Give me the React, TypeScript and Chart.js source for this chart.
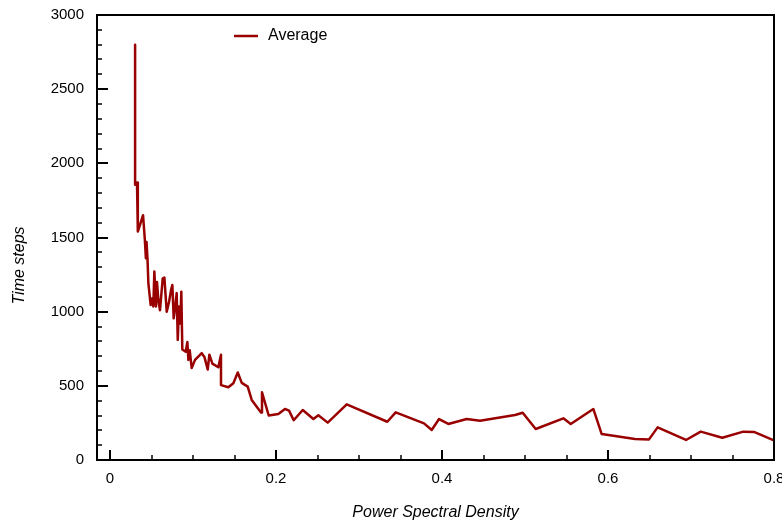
import React, { useEffect, useRef } from "react";
import { Chart, registerables } from "chart.js";

Chart.register(...registerables);

const seriesLabel = "Average";
const xTitle = "Power Spectral Density";
const yTitle = "Time steps";

const psd: number[] = [
  0.0302, 0.0302, 0.0325, 0.0335, 0.0398, 0.042, 0.0432, 0.044, 0.0452, 0.0462,
  0.049, 0.051, 0.0522, 0.0534, 0.0554, 0.0566, 0.0582, 0.0602, 0.0635, 0.0655,
  0.0683, 0.0711, 0.0735, 0.0751, 0.0767, 0.0783, 0.0803, 0.0816, 0.0831, 0.0847,
  0.0859, 0.0871, 0.0912, 0.0932, 0.0944, 0.096, 0.0984, 0.1024, 0.1105, 0.1137,
  0.1177, 0.1197, 0.1233, 0.1305, 0.1337, 0.1337, 0.1426, 0.1486, 0.1539, 0.1587,
  0.1659, 0.1707, 0.1819, 0.1831, 0.1912, 0.2028, 0.2108, 0.2157, 0.2213, 0.2322,
  0.245, 0.251, 0.2623, 0.2852, 0.3341, 0.3442, 0.3783, 0.3876, 0.3964, 0.4076,
  0.4297, 0.4458, 0.488, 0.4972, 0.5129, 0.5462, 0.5551, 0.5823, 0.5924, 0.6325,
  0.6494, 0.6598, 0.694, 0.7117, 0.7377, 0.763, 0.7759, 0.7984,
];

const steps: number[] = [
  2800, 1855, 1870, 1540, 1650, 1480, 1360, 1470, 1350, 1190,
  1045, 1090, 1035, 1270, 1035, 1200, 1080, 1010, 1225, 1230,
  1000, 1065, 1145, 1180, 955, 1020, 1125, 810, 1035, 920,
  1135, 745, 730, 795, 675, 740, 620, 675, 720, 695,
  610, 710, 650, 625, 710, 505, 490, 517, 590, 520,
  495, 405, 321, 456, 300, 310, 344, 333, 268, 337,
  276, 301, 252, 375, 258, 321, 247, 202, 276, 243,
  276, 265, 303, 319, 209, 281, 243, 344, 175, 142,
  139, 220, 135, 191, 150, 191, 189, 135,
];

const xTickLabels = ["0", "0.2", "0.4", "0.6", "0.8"];
const yTickLabels = ["0", "500", "1000", "1500", "2000", "2500", "3000"];

const FONT = "'Liberation Sans', Arial, Helvetica, sans-serif";
const LINE_COLOR = "#990000";

const framePlugin = {
  id: "framePlugin",
  afterDraw(chart: any) {
    const ctx = chart.ctx as CanvasRenderingContext2D;
    const { left, right, top, bottom } = chart.chartArea;
    const xs = chart.scales.x;
    const ys = chart.scales.y;
    ctx.save();
    ctx.strokeStyle = "#000";
    // y ticks (inward)
    for (let v = 0; v <= 3000; v += 100) {
      const py = Math.round(ys.getPixelForValue(v));
      const major = v % 500 === 0;
      ctx.lineWidth = major ? 2 : 1.5;
      ctx.beginPath();
      ctx.moveTo(left, py);
      ctx.lineTo(left + (major ? 11 : 5), py);
      ctx.stroke();
    }
    // x ticks (inward)
    for (let i = 0; i <= 16; i++) {
      const v = i * 0.05;
      const px = Math.round(xs.getPixelForValue(v));
      const major = i % 4 === 0;
      ctx.lineWidth = major ? 2 : 1.5;
      ctx.beginPath();
      ctx.moveTo(px, bottom);
      ctx.lineTo(px, bottom - (major ? 10 : 5));
      ctx.stroke();
    }
    // frame
    ctx.lineWidth = 2;
    ctx.strokeRect(left, top, right - left, bottom - top);
    // legend
    const ds = chart.data.datasets[0];
    const ly = top + 21;
    const lx = left + 137;
    ctx.strokeStyle = ds.borderColor;
    ctx.lineWidth = 2.5;
    ctx.beginPath();
    ctx.moveTo(lx, ly);
    ctx.lineTo(lx + 24, ly);
    ctx.stroke();
    ctx.fillStyle = "#000";
    ctx.font = `16px ${FONT}`;
    ctx.textBaseline = "middle";
    ctx.textAlign = "left";
    ctx.fillText(ds.label, lx + 34, ly);
    // y axis title
    ctx.save();
    ctx.translate(20, (top + bottom) / 2 + 28);
    ctx.rotate(-Math.PI / 2);
    ctx.font = `italic 16px ${FONT}`;
    ctx.textAlign = "center";
    ctx.textBaseline = "middle";
    ctx.fillText(yTitle, 0, 0);
    ctx.restore();
    ctx.restore();
  },
};

export default function App() {
  const ref = useRef<HTMLCanvasElement | null>(null);
  useEffect(() => {
    if (!ref.current) return;
    const chart = new Chart(ref.current, {
      type: "line",
      data: {
        datasets: [
          {
            label: seriesLabel,
            data: psd.map((x, i) => ({ x, y: steps[i] })),
            borderColor: LINE_COLOR,
            backgroundColor: LINE_COLOR,
            borderWidth: 2.5,
            borderJoinStyle: "round",
            borderCapStyle: "round",
            pointRadius: 0,
            tension: 0,
            fill: false,
          },
        ],
      },
      options: {
        animation: false,
        responsive: true,
        maintainAspectRatio: false,
        layout: { padding: { left: 40, right: 8, top: 15, bottom: 0 } },
        plugins: {
          legend: { display: false },
          tooltip: { enabled: false },
        },
        scales: {
          x: {
            type: "linear",
            min: -0.0157,
            max: 0.8,
            grid: { display: false, drawTicks: false },
            border: { display: false },
            afterFit(scale: any) {
              scale.height = 64;
              scale.paddingLeft = 0;
              scale.paddingRight = 0;
            },
            afterBuildTicks(scale: any) {
              scale.ticks = xTickLabels.map((t) => ({ value: parseFloat(t) }));
            },
            ticks: {
              autoSkip: false,
              maxRotation: 0,
              padding: 10,
              color: "#000",
              font: { family: FONT, size: 15 },
              callback: (v: any) => {
                const s = xTickLabels.find((t) => Math.abs(parseFloat(t) - Number(v)) < 1e-9);
                return s ?? "";
              },
            },
            title: {
              display: true,
              text: xTitle,
              color: "#000",
              font: { family: FONT, size: 16, style: "italic" },
              padding: { top: 0, bottom: 2 },
            },
          },
          y: {
            type: "linear",
            min: 0,
            max: 3000,
            grid: { display: false, drawTicks: false },
            border: { display: false },
            afterFit(scale: any) {
              scale.width = 57;
              scale.paddingTop = 0;
              scale.paddingBottom = 0;
            },
            afterBuildTicks(scale: any) {
              scale.ticks = yTickLabels.map((t) => ({ value: parseFloat(t) }));
            },
            ticks: {
              autoSkip: false,
              padding: 13,
              color: "#000",
              font: { family: FONT, size: 15 },
              callback: (v: any) => {
                const s = yTickLabels.find((t) => Math.abs(parseFloat(t) - Number(v)) < 1e-9);
                return s ?? "";
              },
            },
            title: { display: false, text: yTitle },
          },
        },
      },
      plugins: [framePlugin],
    });
    return () => chart.destroy();
  }, []);
  return (
    <div style={{ position: "fixed", left: 0, top: 0, width: 782, height: 524, background: "#fff" }}>
      <canvas ref={ref} />
    </div>
  );
}
